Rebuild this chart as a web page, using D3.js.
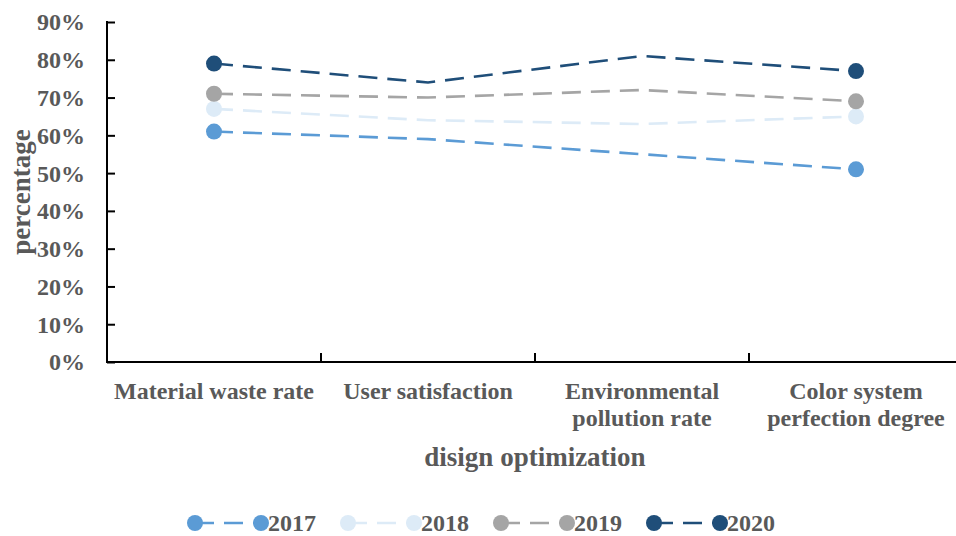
<!DOCTYPE html>
<html>
<head>
<meta charset="utf-8">
<script src="https://cdn.jsdelivr.net/npm/d3@7"></script>
<style>
  html, body { margin: 0; padding: 0; background: #fff; }
  svg { display: block; }
  text { font-family: "Liberation Serif", "Times New Roman", serif; font-weight: bold; fill: #595959; }
</style>
</head>
<body>
<svg id="chart" width="956" height="536"></svg>
<script>
// Categories along the x axis (each label may wrap onto two lines)
const categories = [
  ["Material waste rate"],
  ["User satisfaction"],
  ["Environmental", "pollution rate"],
  ["Color system", "perfection degree"]
];
const categoryKeys = categories.map(c => c.join(" "));

// Percentages per year
const years = ["2017", "2018", "2019", "2020"];
const values2017 = [0.61, 0.59, 0.55, 0.51];
const values2018 = [0.67, 0.64, 0.63, 0.65];
const values2019 = [0.71, 0.70, 0.72, 0.69];
const values2020 = [0.79, 0.74, 0.81, 0.77];
const seriesValues = [values2017, values2018, values2019, values2020];
const colors = ["#5B9BD5", "#DDEBF7", "#A5A5A5", "#1F4E79"];

const yTicks = [0, 0.1, 0.2, 0.3, 0.4, 0.5, 0.6, 0.7, 0.8, 0.9];

const svg = d3.select("#chart");
const plotLeft = 107, plotRight = 963, plotTop = 22, plotBottom = 362;

const x = d3.scaleBand().domain(categoryKeys).range([plotLeft, plotRight]);
const y = d3.scaleLinear().domain([0, 0.9]).range([plotBottom, plotTop]);

const dash = "19 10";
const lineW = 2.6;
const labelSize = 24;
const titleSize = 27;

// Y axis, ticks pointing into the plot
const yAxis = svg.append("g")
  .attr("transform", `translate(${plotLeft},0)`)
  .call(d3.axisRight(y).tickValues(yTicks).tickSize(8).tickFormat(""));
yAxis.select(".domain").remove();
yAxis.selectAll(".tick line").attr("stroke", "#000").attr("stroke-width", 2);

svg.append("g").selectAll("text")
  .data(yTicks)
  .join("text")
  .attr("x", 85)
  .attr("y", d => y(d))
  .attr("dy", "0.35em")
  .attr("text-anchor", "end")
  .attr("font-size", labelSize)
  .text(d3.format(".0%"));

// X axis, ticks between categories pointing up
const bandEdges = categoryKeys.slice(1).map(k => x(k));
svg.append("g").selectAll("line")
  .data(bandEdges)
  .join("line")
  .attr("x1", d => d).attr("x2", d => d)
  .attr("y1", plotBottom).attr("y2", plotBottom - 9)
  .attr("stroke", "#000").attr("stroke-width", 2);

svg.append("line")
  .attr("x1", plotLeft).attr("x2", plotLeft)
  .attr("y1", plotTop - 1).attr("y2", plotBottom + 1)
  .attr("stroke", "#000").attr("stroke-width", 2);
svg.append("line")
  .attr("x1", plotLeft - 1).attr("x2", plotRight)
  .attr("y1", plotBottom).attr("y2", plotBottom)
  .attr("stroke", "#000").attr("stroke-width", 2);

// Category labels
const catG = svg.append("g").selectAll("text")
  .data(categories)
  .join("text")
  .attr("text-anchor", "middle")
  .attr("font-size", labelSize)
  .attr("x", (d, i) => x(categoryKeys[i]) + x.bandwidth() / 2)
  .attr("y", 391);
catG.selectAll("tspan")
  .data(d => d)
  .join("tspan")
  .attr("x", function () { return this.parentNode.getAttribute("x"); })
  .attr("dy", (d, i) => i === 0 ? "0.35em" : 27)
  .text(d => d);

// Axis titles
svg.append("text")
  .attr("x", 535).attr("y", 457).attr("dy", "0.35em")
  .attr("text-anchor", "middle")
  .attr("font-size", titleSize)
  .text("disign optimization");

svg.append("text")
  .attr("transform", `translate(21,192) rotate(-90)`)
  .attr("dy", "0.35em")
  .attr("text-anchor", "middle")
  .attr("font-size", titleSize)
  .text("percentage");

// Lines with markers at the first and last category
const line = d3.line()
  .x((d, i) => x(categoryKeys[i]) + x.bandwidth() / 2)
  .y(d => y(d));

const series = svg.append("g").selectAll("g")
  .data(seriesValues)
  .join("g");

series.append("path")
  .attr("d", d => line(d))
  .attr("fill", "none")
  .attr("stroke", (d, i) => colors[i])
  .attr("stroke-width", lineW)
  .attr("stroke-dasharray", dash);

series.selectAll("circle")
  .data((d, i) => [
    { v: d[0], k: 0, c: colors[i] },
    { v: d[d.length - 1], k: d.length - 1, c: colors[i] }
  ])
  .join("circle")
  .attr("cx", d => x(categoryKeys[d.k]) + x.bandwidth() / 2)
  .attr("cy", d => y(d.v))
  .attr("r", 8)
  .attr("fill", d => d.c);

// Legend
const legend = svg.append("g");
let cursor = 195;
years.forEach((yr, i) => {
  const g = legend.append("g");
  g.append("line")
    .attr("x1", cursor).attr("x2", cursor + 66)
    .attr("y1", 523).attr("y2", 523)
    .attr("stroke", colors[i]).attr("stroke-width", lineW)
    .attr("stroke-dasharray", dash);
  g.append("circle").attr("cx", cursor).attr("cy", 523).attr("r", 8).attr("fill", colors[i]);
  g.append("circle").attr("cx", cursor + 66).attr("cy", 523).attr("r", 8).attr("fill", colors[i]);
  const t = g.append("text")
    .attr("x", cursor + 73).attr("y", 523).attr("dy", "0.35em")
    .attr("font-size", labelSize)
    .text(yr);
  cursor = cursor + 73 + t.node().getComputedTextLength() + 32;
});
</script>
</body>
</html>
